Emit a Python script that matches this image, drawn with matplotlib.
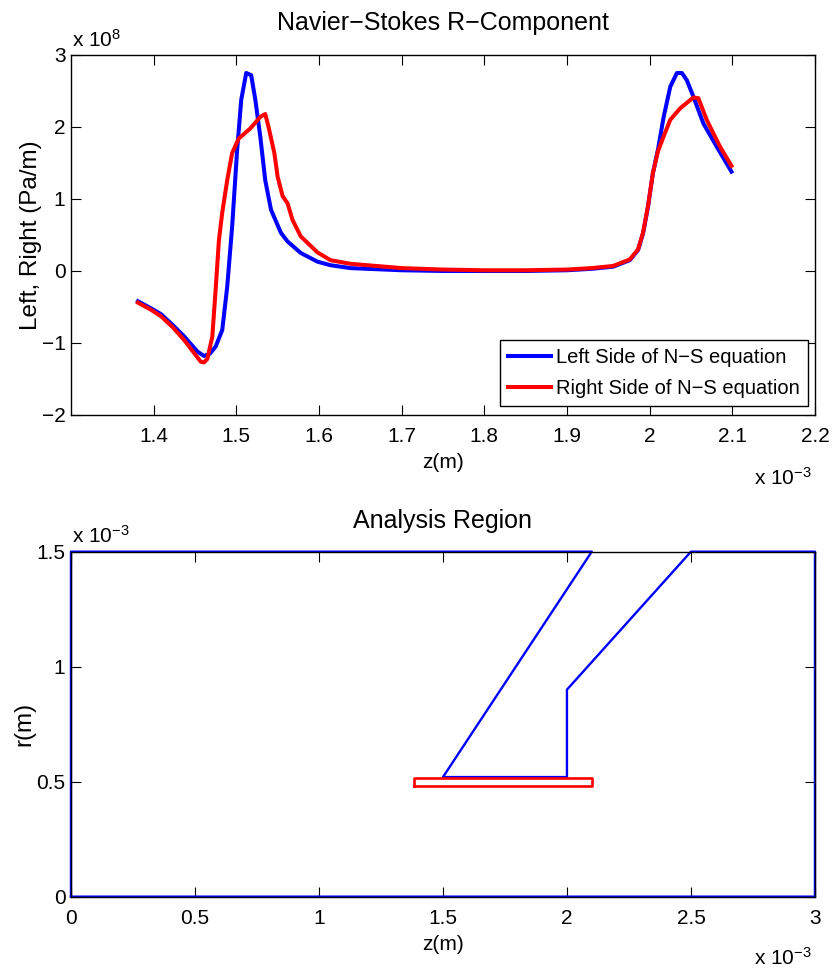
import matplotlib.pyplot as plt
from matplotlib.ticker import FuncFormatter
import numpy as np

plt.rcParams['font.family'] = ['Liberation Sans', 'DejaVu Sans']
plt.rcParams['mathtext.default'] = 'regular'
plt.rcParams['font.size'] = 15

# --- N-S R-component, z in units of 1e-3 m, values in units of 1e8 Pa/m ---
z_left = np.array([1.381, 1.397, 1.409, 1.423, 1.437, 1.453, 1.461, 1.468, 1.475,
                   1.483, 1.489, 1.495, 1.501, 1.506, 1.512, 1.518, 1.523, 1.529,
                   1.535, 1.542, 1.554, 1.562, 1.578, 1.598, 1.614, 1.638, 1.70,
                   1.75, 1.80, 1.85, 1.90, 1.93, 1.956, 1.976, 1.986, 1.992, 1.998,
                   2.004, 2.010, 2.017, 2.025, 2.033, 2.039, 2.045, 2.053, 2.065,
                   2.081, 2.099])
left_side = np.array([-0.42, -0.52, -0.60, -0.75, -0.91, -1.12, -1.18, -1.15, -1.05,
                      -0.82, -0.22, 0.62, 1.68, 2.38, 2.75, 2.72, 2.38, 1.87,
                      1.26, 0.85, 0.53, 0.41, 0.25, 0.13, 0.08, 0.04, 0.01,
                      0.0, 0.0, 0.0, 0.01, 0.03, 0.06, 0.15, 0.29, 0.52, 0.89,
                      1.36, 1.68, 2.14, 2.56, 2.75, 2.75, 2.65, 2.42, 2.05,
                      1.73, 1.38])

z_right = np.array([1.381, 1.397, 1.409, 1.423, 1.437, 1.457, 1.461, 1.465, 1.471,
                    1.475, 1.479, 1.483, 1.489, 1.495, 1.503, 1.517, 1.529, 1.535,
                    1.539, 1.546, 1.550, 1.556, 1.562, 1.568, 1.578, 1.598, 1.614,
                    1.638, 1.70, 1.75, 1.80, 1.85, 1.90, 1.93, 1.956, 1.976, 1.986,
                    1.992, 1.998, 2.004, 2.010, 2.017, 2.025, 2.037, 2.053, 2.059,
                    2.069, 2.085, 2.099])
right_side = np.array([-0.44, -0.54, -0.63, -0.78, -0.96, -1.26, -1.27, -1.22, -0.91,
                       -0.26, 0.43, 0.81, 1.26, 1.64, 1.84, 1.98, 2.14, 2.18,
                       2.00, 1.64, 1.31, 1.04, 0.94, 0.71, 0.48, 0.26, 0.15,
                       0.10, 0.04, 0.02, 0.01, 0.01, 0.02, 0.04, 0.07, 0.16, 0.30,
                       0.53, 0.90, 1.36, 1.66, 1.87, 2.10, 2.26, 2.41, 2.40,
                       2.10, 1.73, 1.46])

# --- analysis region (units of 1e-3 m) ---
domain_z = [0, 3.0, 3.0, 2.5, 2.0, 2.0, 1.5, 2.1, 0, 0]
domain_r = [0, 0, 1.5, 1.5, 0.9, 0.52, 0.52, 1.5, 1.5, 0]
probe_z = [1.383, 2.103, 2.103, 1.383, 1.383]
probe_r = [0.48, 0.48, 0.515, 0.515, 0.48]


def scaled_fmt(scale):
    return FuncFormatter(lambda v, p: ('%g' % round(v / scale, 6)).replace('-', '\u2212'))


def matlab_axes(ax):
    ax.tick_params(axis='both', direction='in', length=7, width=0.8, top=True,
                   right=True, labelsize=15)
    ax.tick_params(axis='x', pad=9)
    ax.tick_params(axis='y', pad=4)
    for s in ax.spines.values():
        s.set_linewidth(1.0)


fig = plt.figure(figsize=(8.32, 9.68), dpi=100)

ax1 = fig.add_axes([0.0853, 0.5713, 0.8942, 0.3719])
ax1.plot(z_left * 1e-3, left_side * 1e8, color='#0000ff', lw=2.9,
         label='Left Side of N\u2212S equation')
ax1.plot(z_right * 1e-3, right_side * 1e8, color='#ff0000', lw=2.9,
         label='Right Side of N\u2212S equation')
ax1.set_xlim(1.3e-3, 2.2e-3)
ax1.set_ylim(-2e8, 3e8)
ax1.set_xticks(np.arange(1.4, 2.21, 0.1) * 1e-3)
ax1.set_yticks(np.arange(-2, 3.1, 1) * 1e8)
ax1.xaxis.set_major_formatter(scaled_fmt(1e-3))
ax1.yaxis.set_major_formatter(scaled_fmt(1e8))
matlab_axes(ax1)
ax1.set_title('Navier\u2212Stokes R\u2212Component', fontsize=18, pad=18)
ax1.set_xlabel('z(m)', fontsize=15, labelpad=5)
ax1.set_ylabel('Left, Right (Pa/m)', fontsize=17.5, labelpad=0)
ax1.text(0.002, 1.022, 'x 10$^{8}$', transform=ax1.transAxes, fontsize=15,
         ha='left', va='baseline')
ax1.text(0.996, -0.194, 'x 10$^{\u22123}$', transform=ax1.transAxes, fontsize=15,
         ha='right', va='baseline')
leg = ax1.legend(loc='lower right', bbox_to_anchor=(0.991, 0.025), fancybox=False,
                 edgecolor='black', framealpha=1, borderpad=0.4, handlelength=2.15,
                 handletextpad=0.25, labelspacing=0.6, borderaxespad=0, fontsize=14.5)
leg.get_frame().set_linewidth(1.0)

ax2 = fig.add_axes([0.0853, 0.0737, 0.8942, 0.3564])
ax2.plot(np.array(domain_z) * 1e-3, np.array(domain_r) * 1e-3, color='#0000ff',
         lw=1.7, clip_on=False)
ax2.plot(np.array(probe_z) * 1e-3, np.array(probe_r) * 1e-3, color='#ff0000',
         lw=1.9)
ax2.set_xlim(0, 3e-3)
ax2.set_ylim(0, 1.5e-3)
ax2.set_xticks(np.arange(0, 3.01, 0.5) * 1e-3)
ax2.set_yticks(np.arange(0, 1.51, 0.5) * 1e-3)
ax2.xaxis.set_major_formatter(scaled_fmt(1e-3))
ax2.yaxis.set_major_formatter(scaled_fmt(1e-3))
matlab_axes(ax2)
ax2.set_title('Analysis Region', fontsize=18, pad=17)
ax2.set_xlabel('z(m)', fontsize=15, labelpad=5)
ax2.set_ylabel('r(m)', fontsize=17.5, labelpad=1)
ax2.text(0.002, 1.026, 'x 10$^{\u22123}$', transform=ax2.transAxes, fontsize=15,
         ha='left', va='baseline')
ax2.text(0.996, -0.198, 'x 10$^{\u22123}$', transform=ax2.transAxes, fontsize=15,
         ha='right', va='baseline')

fig.savefig('out.png', dpi=100)
